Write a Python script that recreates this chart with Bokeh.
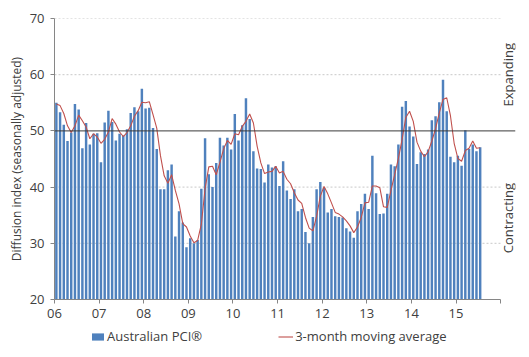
import math
from bokeh.plotting import figure
from bokeh.layouts import column
from bokeh.models import Range1d, Span, Legend, LegendItem, FixedTicker, Label
from bokeh.embed import file_html
from bokeh.resources import INLINE

# ---- data (monthly, Jan 2006 - Jul 2015) ----
year_labels = ["06", "07", "08", "09", "10", "11", "12", "13", "14", "15"]

pci = [
    55.0, 53.3, 51.1, 48.2, 49.7, 54.8, 53.8, 46.9, 51.4, 47.6, 49.5, 49.6,   # 2006
    44.4, 51.5, 53.6, 51.6, 48.3, 49.5, 49.2, 50.3, 53.2, 54.2, 53.5, 57.5,   # 2007
    54.0, 54.1, 50.5, 46.8, 39.6, 39.6, 43.0, 44.0, 31.2, 35.7, 33.7, 29.3,   # 2008
    30.9, 30.0, 30.6, 39.7, 48.7, 42.3, 40.0, 44.3, 48.8, 47.4, 48.8, 46.7,   # 2009
    53.0, 48.3, 51.0, 55.8, 52.1, 46.4, 43.3, 43.2, 40.8, 44.0, 43.5, 43.7,   # 2010
    40.2, 44.6, 39.4, 37.9, 39.6, 35.7, 36.1, 32.0, 30.0, 34.7, 39.6, 40.9,   # 2011
    39.9, 35.5, 36.1, 34.8, 34.7, 34.6, 32.7, 32.1, 31.0, 35.7, 37.0, 38.8,   # 2012
    36.1, 45.6, 38.9, 35.2, 35.3, 38.8, 44.0, 43.7, 47.6, 54.3, 55.3, 50.8,   # 2013
    49.0, 44.1, 46.2, 45.9, 46.7, 51.9, 52.6, 55.1, 59.1, 53.5, 45.4, 44.4,   # 2014
    45.6, 43.8, 50.1, 46.8, 47.6, 46.4, 47.1,                                 # 2015
]

ma3 = [
    54.8, 54.5, 53.1, 50.9, 49.7, 50.9, 52.8, 51.8, 50.7, 48.6, 49.5, 48.9,
    47.8, 48.5, 49.8, 52.2, 51.2, 49.8, 49.0, 49.7, 50.9, 52.6, 53.6, 55.1,
    55.0, 55.2, 52.9, 50.5, 45.6, 42.0, 40.7, 42.2, 39.4, 37.0, 33.5, 32.9,
    31.3, 30.1, 30.5, 33.4, 39.7, 43.6, 43.7, 42.2, 44.4, 46.8, 48.3, 47.6,
    49.5, 49.3, 50.8, 51.7, 53.0, 51.4, 47.3, 44.3, 42.4, 42.7, 42.8, 43.7,
    42.5, 42.8, 41.4, 40.6, 39.0, 37.7, 37.1, 34.6, 32.7, 32.2, 34.8, 38.4,
    40.1, 38.8, 37.2, 35.5, 35.2, 34.7, 34.0, 33.1, 31.9, 32.9, 34.6, 37.2,
    37.3, 40.2, 40.2, 39.9, 36.5, 36.4, 39.4, 42.2, 45.1, 48.5, 52.4, 53.5,
    51.7, 48.0, 46.4, 45.4, 46.3, 48.2, 50.4, 53.2, 55.6, 55.9, 52.7, 47.8,
    45.1, 44.6, 46.5, 46.9, 48.2, 46.9, 47.0,
]

y_ticks = [20, 30, 40, 50, 60, 70]
grid_levels = [30, 40, 60, 70]
threshold = 50

FONT = "Open Sans"
TXT = "#404040"
AXC = "#868686"
BAR_C = "#4F81BD"
LINE_C = "#C0504D"

x = [i + 0.5 for i in range(len(pci))]
n_months = 12 * len(year_labels)

p = figure(width=529, height=326, output_backend="svg", toolbar_location=None,
           x_range=Range1d(0, n_months + 4), y_range=Range1d(20, 70))
p.min_border_left = 54
p.min_border_right = 14
p.min_border_top = 18
p.min_border_bottom = 27
p.outline_line_color = None
p.background_fill_color = "white"
p.xgrid.visible = False
p.ygrid.visible = False

# dotted gridlines
p.segment(x0=[0] * len(grid_levels), x1=[n_months] * len(grid_levels),
          y0=grid_levels, y1=grid_levels, line_color="#c8c8c8",
          line_dash="2 2", line_width=1)

bars = p.vbar(x=x, top=pci, bottom=0, width=0.66, fill_color=BAR_C,
              line_color=None)
line = p.line(x=x, y=ma3, line_color=LINE_C, line_width=1.1)

p.add_layout(Span(location=threshold, dimension="width", line_color="#3a3a3a",
                  line_width=1))

# axes
xa = p.xaxis[0]
xa.ticker = FixedTicker(ticks=[12 * k for k in range(len(year_labels) + 1)])
overrides = {12 * k: lab for k, lab in enumerate(year_labels)}
overrides[n_months] = ""
xa.major_label_overrides = overrides
xa.bounds = (0, n_months)
xa.minor_tick_line_color = None
xa.major_tick_in = 0
xa.major_tick_out = 4
xa.axis_line_color = AXC
xa.major_tick_line_color = AXC
xa.major_label_standoff = 5
xa.major_label_text_font = FONT
xa.major_label_text_font_size = "13px"
xa.major_label_text_color = TXT

ya = p.yaxis[0]
ya.ticker = FixedTicker(ticks=y_ticks)
ya.minor_tick_line_color = None
ya.major_tick_in = 0
ya.major_tick_out = 4
ya.axis_line_color = AXC
ya.major_tick_line_color = AXC
ya.major_label_standoff = 6
ya.major_label_text_font = FONT
ya.major_label_text_font_size = "13px"
ya.major_label_text_color = TXT
ya.axis_label = "Diffusion index (seasonally adjusted)"
ya.axis_label_text_font = FONT
ya.axis_label_text_font_size = "12px"
ya.axis_label_text_font_style = "normal"
ya.axis_label_text_color = TXT
ya.axis_label_standoff = 2

# side annotations
for txt, yv in (("Expanding", 60), ("Contracting", 34.5)):
    p.add_layout(Label(x=n_months + 2, y=yv, text=txt, angle=math.pi / 2,
                       text_align="center", text_baseline="middle",
                       text_font=FONT, text_font_size="13px", text_color=TXT))

# legend strip below the chart (proxy glyphs sit outside its visible range)
lf = figure(width=529, height=31, output_backend="svg", toolbar_location=None,
            x_range=Range1d(0, 1), y_range=Range1d(0, 1),
            x_axis_location=None, y_axis_location=None)
lf.min_border_left = 0
lf.min_border_right = 0
lf.min_border_top = 0
lf.min_border_bottom = 0
lf.outline_line_color = None
lf.xgrid.visible = False
lf.ygrid.visible = False
lb = lf.vbar(x=[-5], top=[-5], bottom=[-6], width=0.5, fill_color=BAR_C,
             line_color=None)
ll = lf.line(x=[-6, -5], y=[-6, -5], line_color=LINE_C, line_width=1.1)

legend = Legend(items=[LegendItem(label="Australian PCI\u00ae", renderers=[lb]),
                       LegendItem(label="3-month moving average", renderers=[ll])],
                orientation="horizontal", location=(36, 12))
legend.glyph_width = 15
legend.glyph_height = 9
legend.label_standoff = 2
legend.spacing = 76
legend.padding = 0
legend.margin = 0
legend.border_line_color = None
legend.background_fill_alpha = 0
legend.label_text_font = FONT
legend.label_text_font_size = "13px"
legend.label_text_color = TXT
lf.add_layout(legend)

layout = column(p, lf, spacing=0)
open("out.html", "w").write(file_html(layout, INLINE))
